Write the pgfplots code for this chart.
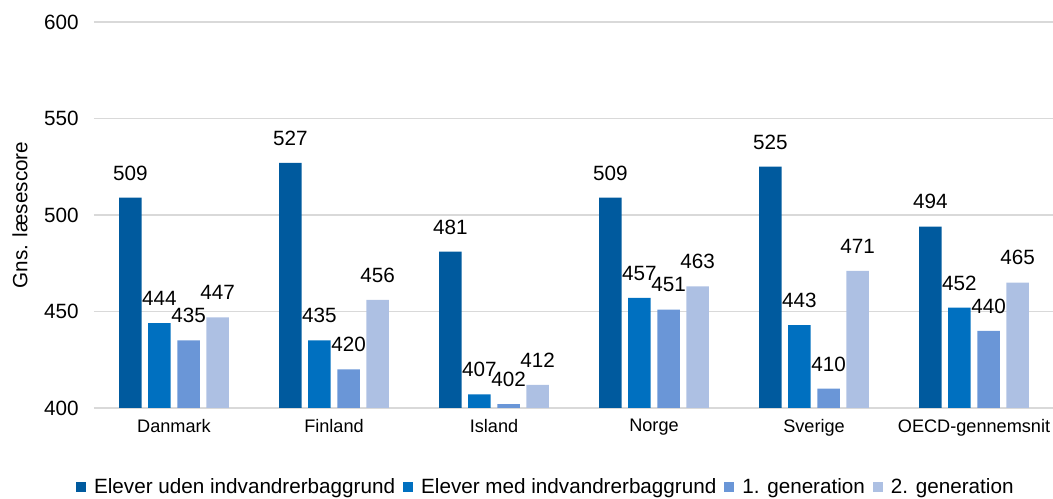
\documentclass[border=0pt]{standalone}
\usepackage{pgfplots}
\pgfplotsset{compat=1.18}
\usepackage{fontspec}
\setmainfont{Liberation Sans}
\definecolor{c1}{HTML}{005A9E}
\definecolor{c2}{HTML}{0070C0}
\definecolor{c3}{HTML}{6A96D7}
\definecolor{c4}{HTML}{ADC0E3}
\definecolor{gridc}{HTML}{D9D9D9}
\begin{document}
\begin{tikzpicture}
\useasboundingbox (-70.5pt,-68.25pt) rectangle (719.25pt,306pt);
\begin{axis}[
  at={(0,0)}, anchor=south west,
  width=720pt, height=289.5pt, scale only axis,
  ybar=4.9pt, bar width=16.9pt,
  xmin=-0.5, xmax=5.5, ymin=400, ymax=600,
  ytick={400,450,...,600},
  xtick=data,
  xticklabels={Danmark,Finland,Island,Norge,Sverige,OECD-gennemsnit},
  /pgf/number format/assume math mode=true,
  axis x line*=bottom, axis y line*=left,
  y axis line style={draw=none},
  x axis line style={draw=gridc, line width=1.5pt},
  major tick length=0pt,
  ymajorgrids, grid style={draw=gridc, line width=1.2pt},
  tick label style={font=\fontsize{15.5}{18}\selectfont},
  xticklabel style={font=\fontsize{13.6}{16}\selectfont, yshift=-5pt},
  yticklabel style={xshift=-8pt},
  ylabel={Gns. læsescore},
  ylabel style={font=\fontsize{15.5}{18}\selectfont, at={(axis description cs:-0.0771,0.5)}, anchor=center, rotate=0},
  nodes near coords,
  every node near coord/.append style={font=\fontsize{15.5}{18}\selectfont, color=black, anchor=south, yshift=9.5pt},
  legend columns=4,
  legend style={draw=none, fill=none, at={(0.471,0)}, anchor=center, yshift=-59pt, font=\fontsize{15.5}{18}\selectfont,
    /tikz/every even column/.append style={column sep=4pt}},
  legend image code/.code={\fill[#1] (0pt,-3.75pt) rectangle (7.5pt,3.75pt); \path (11.5pt,0pt);},
  clip=true,
]
\addplot[fill=c1, draw=none] coordinates {(0,509) (1,527) (2,481) (3,509) (4,525) (5,494)};
\addplot[fill=c2, draw=none] coordinates {(0,444) (1,435) (2,407) (3,457) (4,443) (5,452)};
\addplot[fill=c3, draw=none] coordinates {(0,435) (1,420) (2,402) (3,451) (4,410) (5,440)};
\addplot[fill=c4, draw=none] coordinates {(0,447) (1,456) (2,412) (3,463) (4,471) (5,465)};
\legend{Elever uden indvandrerbaggrund, Elever med indvandrerbaggrund, 1. generation, 2. generation}
\end{axis}
\end{tikzpicture}
\end{document}
